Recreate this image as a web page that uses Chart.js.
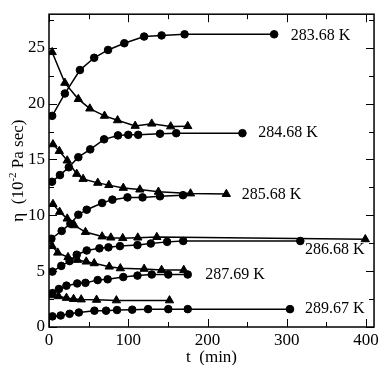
<!DOCTYPE html>
<html><head><meta charset="utf-8">
<script src="https://cdn.jsdelivr.net/npm/chart.js@4.4.0/dist/chart.umd.min.js"></script>
<style>html,body{margin:0;padding:0;background:#fff;}canvas{display:block;}</style>
</head><body>
<canvas id="c" width="382" height="365"></canvas>
<script>
// ---- data (t in min, eta in 10^-2 Pa sec) ----
const tA_circ = [4,20,39,57,74.5,95,120,142,171,284];
const etaA_circ = [18.9,20.9,23.0,24.1,24.8,25.4,26.0,26.1,26.2,26.2];
const tA_tri = [4,20,37,51.5,70,86.5,108.7,129.6,153.5,175];
const etaA_tri = [24.6,21.85,20.4,19.55,18.9,18.5,18.0,18.2,17.95,17.98];
const tB_circ = [3.8,13.8,25,37,52,69.5,87,100,112.5,140,160.5,244];
const etaB_circ = [13.0,13.6,14.3,15.2,15.9,16.8,17.15,17.2,17.2,17.3,17.35,17.35];
const tB_tri = [5,13,23,35,43,61.5,75.5,93.7,114.6,138,178.5,223.7];
const etaB_tri = [16.35,15.75,14.9,13.7,13.25,12.9,12.7,12.45,12.3,12.1,11.95,11.9];
const tC_circ = [3,16,27,37,47.6,67,80,99,118,140,169];
const etaC_circ = [7.9,8.6,9.25,10.05,10.5,11.1,11.4,11.6,11.6,11.7,11.8];
const tC_tri = [5,13.4,23,32,46,67,78,93,112,136,399];
const etaC_tri = [11.0,10.3,9.7,9.1,8.5,8.1,8.0,7.95,8.0,8.05,7.85];
const tD_circ = [4.3,15.5,26,35,47.6,63.6,75,89.5,111.6,128.4,149,169.3,317];
const etaD_circ = [4.96,5.47,5.9,6.47,6.85,7.04,7.13,7.24,7.33,7.47,7.62,7.7,7.7];
const tD_tri = [4,11,24,36,47,57,76,90,120,142,170];
const etaD_tri = [7.24,6.65,6.25,6.0,5.85,5.7,5.4,5.25,5.2,5.1,5.1];
const tE_circ = [4.3,12.5,22,35.6,46,61.4,74,93.7,111.6,129.6,150.5,175];
const etaE_circ = [3.03,3.4,3.7,3.9,3.95,4.2,4.27,4.47,4.6,4.7,4.7,4.7];
const tE_tri = [3,12,22,31,40.6,60,85,152];
const etaE_tri = [2.83,2.75,2.6,2.5,2.46,2.43,2.38,2.38];
const tF_circ = [4.3,14.7,26,37.6,57.3,72,85.8,105,125,150.5,175,304];
const etaF_circ = [0.95,1.03,1.18,1.3,1.46,1.46,1.52,1.55,1.6,1.6,1.6,1.6];

const curveLabels = ['283.68 K','284.68 K','285.68 K','286.68 K','287.69 K','289.67 K'];
const labelT = [305,264,243,323,197,323];
const labelEta = [26.1,17.4,11.85,6.9,4.7,1.6];

const xMin = 0, xMax = 410, xMinorStep = 50, xMajorStep = 100;
const yMin = 0, yMax = 28, yMinorStep = 2.5, yMajorStep = 5;
const xTitle = 't  (min)';
const yTitleParts = ['\u03B7  (10', '-2', ' Pa sec)'];

const FONT = "'Liberation Serif', 'Times New Roman', serif";

function mk(ts, etas, style){
  return {
    data: ts.map((t,i)=>({x:t, y:etas[i]})),
    showLine: true,
    borderColor: '#000',
    borderWidth: 1.5,
    backgroundColor: '#000',
    pointBackgroundColor: '#000',
    pointBorderColor: '#000',
    pointBorderWidth: 1,
    pointStyle: style,
    pointRadius: style === 'triangle' ? 4.8 : 3.8,
    tension: 0
  };
}

const datasets = [
  mk(tA_circ, etaA_circ, 'circle'), mk(tA_tri, etaA_tri, 'triangle'),
  mk(tB_circ, etaB_circ, 'circle'), mk(tB_tri, etaB_tri, 'triangle'),
  mk(tC_circ, etaC_circ, 'circle'), mk(tC_tri, etaC_tri, 'triangle'),
  mk(tD_circ, etaD_circ, 'circle'), mk(tD_tri, etaD_tri, 'triangle'),
  mk(tE_circ, etaE_circ, 'circle'), mk(tE_tri, etaE_tri, 'triangle'),
  mk(tF_circ, etaF_circ, 'circle')
];

function isMult(v, step){ const r = v/step; return Math.abs(r-Math.round(r)) < 1e-6; }

const decor = {
  id: 'decor',
  afterDraw(chart){
    const {ctx, chartArea:a, scales:{x, y}} = chart;
    ctx.save();
    ctx.strokeStyle = '#000'; ctx.lineWidth = 1;
    const ln = (x1,y1,x2,y2)=>{ctx.beginPath();ctx.moveTo(x1,y1);ctx.lineTo(x2,y2);ctx.stroke();};
    x.ticks.forEach(t=>{
      if(!isMult(t.value, xMinorStep)) return;
      const L = isMult(t.value, xMajorStep) ? 8 : 5;
      const px = Math.round(x.getPixelForValue(t.value)) + 0.5;
      ln(px, a.bottom, px, a.bottom - L);
      ln(px, a.top, px, a.top + L);
    });
    y.ticks.forEach(t=>{
      if(!isMult(t.value, yMinorStep)) return;
      const L = isMult(t.value, yMajorStep) ? 8 : 5;
      const py = Math.round(y.getPixelForValue(t.value)) + 0.5;
      ln(a.left, py, a.left + L, py);
      ln(a.right, py, a.right - L, py);
    });
    ctx.lineWidth = 1.5;
    ctx.strokeRect(a.left, a.top, a.right - a.left, a.bottom - a.top);
    ctx.fillStyle = '#000';
    ctx.font = "16px " + FONT;
    ctx.textAlign = 'left'; ctx.textBaseline = 'middle';
    curveLabels.forEach((s,i)=>{
      ctx.fillText(s, x.getPixelForValue(labelT[i]), y.getPixelForValue(labelEta[i]));
    });
    const big = "17px " + FONT, small = "11px " + FONT;
    ctx.font = big; const w0 = ctx.measureText(yTitleParts[0]).width;
    const w2 = ctx.measureText(yTitleParts[2]).width;
    ctx.font = small; const w1 = ctx.measureText(yTitleParts[1]).width;
    const total = w0 + w1 + w2;
    const cy = (a.top + a.bottom) / 2;
    ctx.translate(17, cy);
    ctx.rotate(-Math.PI/2);
    ctx.textBaseline = 'alphabetic';
    let xx = -total/2;
    ctx.font = big; ctx.fillText(yTitleParts[0], xx, 6); xx += w0;
    ctx.font = small; ctx.fillText(yTitleParts[1], xx, -1); xx += w1;
    ctx.font = big; ctx.fillText(yTitleParts[2], xx, 6);
    ctx.restore();
  }
};

new Chart(document.getElementById('c'), {
  type: 'scatter',
  data: { datasets },
  options: {
    responsive: false,
    animation: false,
    devicePixelRatio: 1,
    layout: { padding: { top: 1, right: 6, left: 0, bottom: 0 } },
    plugins: { legend: { display: false }, tooltip: { enabled: false } },
    scales: {
      x: {
        type: 'linear', min: xMin, max: xMax,
        grid: { display: false, drawTicks: false },
        border: { display: false },
        ticks: {
          stepSize: xMinorStep, autoSkip: false, includeBounds: false, maxRotation: 0,
          padding: 3, color: '#000', font: { family: FONT, size: 17 },
          callback: v => isMult(v, xMajorStep) ? String(v) : ''
        },
        title: { display: true, text: xTitle, color: '#000', font: { family: FONT, size: 17 }, padding: { top: 0, bottom: -3 } },
        afterFit(s){ s.height = 38; }
      },
      y: {
        type: 'linear', min: yMin, max: yMax,
        grid: { display: false, drawTicks: false },
        border: { display: false },
        ticks: {
          stepSize: yMinorStep, autoSkip: false, includeBounds: false,
          padding: 4, color: '#000', font: { family: FONT, size: 17 },
          callback: v => isMult(v, yMajorStep) ? String(v) : ''
        },
        afterFit(s){ s.width = 49; }
      }
    }
  },
  plugins: [decor]
});
</script>
</body></html>
